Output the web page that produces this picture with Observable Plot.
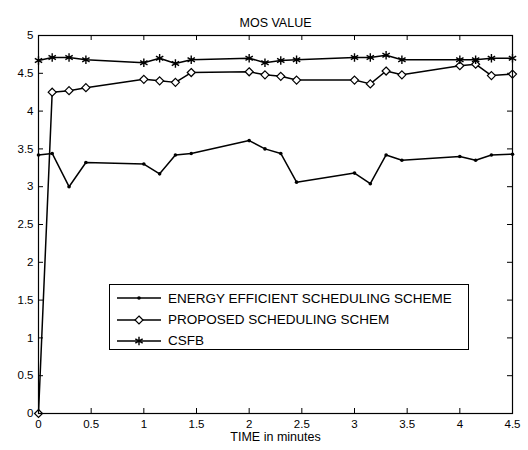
<!DOCTYPE html>
<html><head><meta charset="utf-8">
<script src="https://cdn.jsdelivr.net/npm/d3@7"></script>
<script src="https://cdn.jsdelivr.net/npm/@observablehq/plot@0.6"></script>
<style>
body{margin:0;background:#fff;}
#wrap{position:relative;width:528px;height:450px;font-family:"Liberation Sans",Arial,sans-serif;}
#legend{position:absolute;left:109px;top:284px;width:360px;height:66px;border:1px solid #000;background:#fff;box-sizing:border-box;}
.row{position:absolute;left:0;height:20px;display:flex;align-items:center;font-size:13.5px;color:#000;}
.row svg{display:block;margin-left:7px;margin-right:7px;}
</style></head><body><div id="wrap"></div>
<script>
const title = "MOS VALUE";
const xLabel = "TIME in minutes";
const time = [0,0.13,0.29,0.45,1.0,1.15,1.3,1.45,2.0,2.15,2.3,2.45,3.0,3.15,3.3,3.45,4.0,4.15,4.3,4.5];
const energy = [3.42,3.44,3.0,3.32,3.30,3.17,3.42,3.44,3.61,3.50,3.44,3.06,3.18,3.04,3.42,3.35,3.40,3.35,3.42,3.43];
const proposed = [0,4.25,4.27,4.31,4.42,4.40,4.38,4.51,4.52,4.48,4.46,4.41,4.41,4.36,4.53,4.48,4.60,4.62,4.47,4.49];
const csfb = [4.67,4.71,4.71,4.68,4.64,4.70,4.63,4.68,4.70,4.64,4.67,4.68,4.71,4.71,4.74,4.68,4.68,4.68,4.70,4.70];
const seriesNames = ["ENERGY EFFICIENT SCHEDULING SCHEME","PROPOSED SCHEDULING SCHEM","CSFB"];
const xTicks = [0,0.5,1,1.5,2,2.5,3,3.5,4,4.5];
const yTicks = [0,0.5,1,1.5,2,2.5,3,3.5,4,4.5,5];

const mk = vals => time.map((t,i)=>({t, v: vals[i]}));
const E = mk(energy), P = mk(proposed), C = mk(csfb);

const W = 528, H = 450, mL = 38, mR = 16, mT = 35, mB = 37;
const pw = W - mL - mR, ph = H - mT - mB, tk = 5;
const fmt = d => String(d);

const chart = Plot.plot({
  width: W, height: H,
  marginLeft: mL, marginRight: mR, marginTop: mT, marginBottom: mB,
  style: {fontFamily: "Liberation Sans, Arial, sans-serif", fontSize: "11.5px", color: "#000", background: "#fff"},
  x: {domain: [0, 4.5]},
  y: {domain: [0, 5]},
  marks: [
    Plot.axisX(xTicks, {tickSize: 0, tickPadding: 6, label: null, tickFormat: fmt}),
    Plot.axisY(yTicks, {tickSize: 0, tickPadding: 5, label: null, tickFormat: fmt}),
    Plot.tickX(xTicks, {x: d=>d, insetTop: ph - tk, stroke: "#000"}),
    Plot.tickX(xTicks, {x: d=>d, insetBottom: ph - tk, stroke: "#000"}),
    Plot.tickY(yTicks, {y: d=>d, insetRight: pw - tk, stroke: "#000"}),
    Plot.tickY(yTicks, {y: d=>d, insetLeft: pw - tk, stroke: "#000"}),
    Plot.line(E, {x: "t", y: "v", stroke: "#000", strokeWidth: 1.5}),
    Plot.line(P, {x: "t", y: "v", stroke: "#000", strokeWidth: 1.5}),
    Plot.line(C, {x: "t", y: "v", stroke: "#000", strokeWidth: 1.5}),
    Plot.dot(E, {x: "t", y: "v", r: 1.8, fill: "#000"}),
    Plot.dot(P, {x: "t", y: "v", symbol: "diamond2", r: 3.6, fill: "#fff", stroke: "#000", strokeWidth: 1.2}),
    Plot.dot(C, {x: "t", y: "v", symbol: "asterisk", r: 4, stroke: "#000", strokeWidth: 1.4}),
    Plot.frame({stroke: "#000", strokeWidth: 1.2}),
    Plot.text([title], {frameAnchor: "top", dy: -17, fontSize: 12.5, fill: "#000"}),
    Plot.text([xLabel], {frameAnchor: "bottom", dy: 27, fontSize: 12.5, fill: "#000"})
  ]
});
const wrap = document.getElementById("wrap");
wrap.appendChild(chart);

// legend
const legend = document.createElement("div");
legend.id = "legend";
wrap.appendChild(legend);
const symbols = ["dot","diamond","asterisk"];
const rowTops = [3, 24.5, 45.5];
seriesNames.forEach((name, i) => {
  const row = document.createElement("div");
  row.className = "row";
  row.style.top = rowTops[i] + "px";
  const svg = d3.create("svg").attr("width", 44).attr("height", 20);
  svg.append("line").attr("x1", 0).attr("x2", 44).attr("y1", 10).attr("y2", 10).attr("stroke", "#000").attr("stroke-width", 1.5);
  const g = svg.append("g").attr("transform", "translate(22,10)");
  if (symbols[i] === "dot") g.append("circle").attr("r", 1.8).attr("fill", "#000");
  if (symbols[i] === "diamond") g.append("path").attr("d", d3.symbol(d3.symbolDiamond2, Math.PI*3.6*3.6)()).attr("fill", "#fff").attr("stroke", "#000").attr("stroke-width", 1.2);
  if (symbols[i] === "asterisk") g.append("path").attr("d", d3.symbol(d3.symbolAsterisk, Math.PI*4*4)()).attr("fill", "none").attr("stroke", "#000").attr("stroke-width", 1.4);
  row.appendChild(svg.node());
  const span = document.createElement("span");
  span.textContent = name;
  row.appendChild(span);
  legend.appendChild(row);
});
</script></body></html>
